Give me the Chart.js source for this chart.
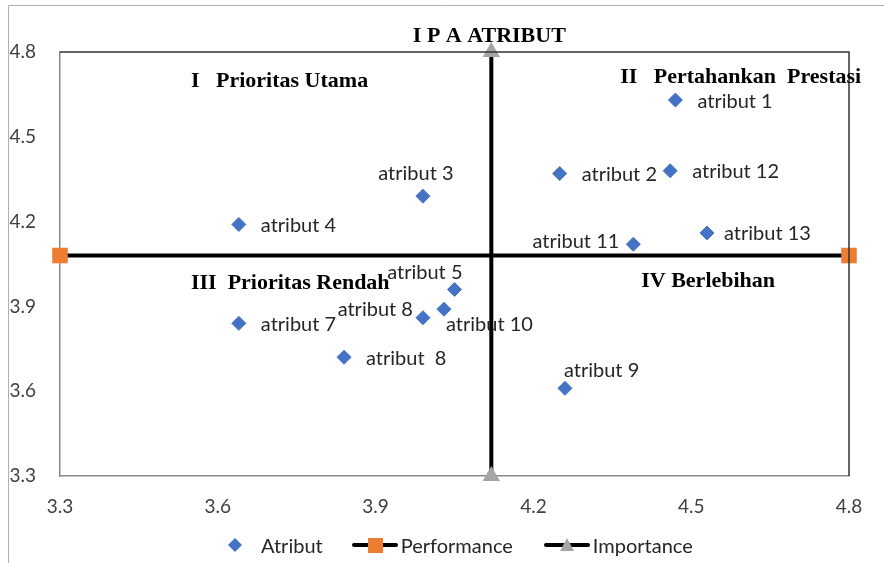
<!DOCTYPE html>
<html>
<head>
<meta charset="utf-8">
<script src="https://cdn.jsdelivr.net/npm/chart.js@4.4.0/dist/chart.umd.min.js"></script>
<style>
  html, body { margin: 0; padding: 0; background: #fff; }
  #wrap { position: relative; width: 884px; height: 563px; }
  #chart_legend {
    position: absolute;
    left: 228px;
    top: 533px;
    display: flex;
    align-items: center;
    font: 20px/24px Lato, sans-serif;
    color: #262626;
  }
  #chart_legend .item { display: flex; align-items: center; }
  #chart_legend canvas { display: block; }
</style>
</head>
<body>
<div id="wrap">
  <canvas id="ipaChart" width="884" height="563"></canvas>
  <div id="chart_legend"></div>
</div>
<script>
// data
const attributeNames = [
  "atribut 1", "atribut 2", "atribut 3", "atribut 4", "atribut 5", "atribut  8",
  "atribut 7", "atribut 8", "atribut 9", "atribut 10", "atribut 11", "atribut 12", "atribut 13"
];
const performanceScores = [4.47, 4.25, 3.99, 3.64, 4.05, 3.84, 3.64, 3.99, 4.26, 4.03, 4.39, 4.46, 4.53];
const importanceScores = [4.63, 4.37, 4.29, 4.19, 3.96, 3.72, 3.84, 3.86, 3.61, 3.89, 4.12, 4.38, 4.16];
const labelSides = [
  "right", "right", "above", "right", "aboveLeft", "right",
  "right", "upLeft", "aboveRight", "belowRight", "left", "right", "rightNear"
];

const performanceLineX = [3.3, 4.8];
const performanceLineY = [4.08, 4.08];
const importanceLineX = [4.12, 4.12];
const importanceLineY = [3.3, 4.8];

const axisTicks = [3.3, 3.6, 3.9, 4.2, 4.5, 4.8];
const chartTitle = "I P A ATRIBUT";
const quadrantTitles = ["I   Prioritas Utama", "II   Pertahankan  Prestasi", "III  Prioritas Rendah", "IV Berlebihan"];

const BLUE = "#4472C4";
const ORANGE = "#ED7D31";
const GRAY = "#A5A5A5";

// legend icons drawn on small canvases
const makeIcon = (marker) => {
  const c = document.createElement("canvas");
  const g = c.getContext("2d");
  if (marker === "diamond") {
    c.width = 14;
    c.height = 14;
    g.fillStyle = BLUE;
    g.beginPath();
    g.moveTo(7, 0);
    g.lineTo(14, 7);
    g.lineTo(7, 14);
    g.lineTo(0, 7);
    g.closePath();
    g.fill();
    return c;
  }
  c.width = 46;
  c.height = 18;
  g.strokeStyle = "#000";
  g.lineWidth = 4;
  g.lineCap = "round";
  g.beginPath();
  g.moveTo(2, 9);
  g.lineTo(44, 9);
  g.stroke();
  if (marker === "square") {
    g.fillStyle = ORANGE;
    g.fillRect(16, 2, 15, 15);
  } else {
    g.fillStyle = GRAY;
    g.beginPath();
    g.moveTo(23, 2);
    g.lineTo(30, 15);
    g.lineTo(16, 15);
    g.closePath();
    g.fill();
  }
  return c;
};

const labelOffsets = {
  right: { dx: 22, dy: 1, align: "left" },
  rightNear: { dx: 17, dy: 1, align: "left" },
  left: { dx: -14, dy: -3, align: "right" },
  upLeft: { dx: -10, dy: -8, align: "right" },
  above: { dx: -7, dy: -23, align: "center" },
  aboveLeft: { dx: 8, dy: -17, align: "right" },
  aboveRight: { dx: -1, dy: -18, align: "left" },
  belowRight: { dx: 2, dy: 15, align: "left" },
};

const pointLabels = {
  id: "pointLabels",
  beforeDatasetsDraw(chart) {
    const ctx = chart.ctx;
    const meta = chart.getDatasetMeta(0);
    ctx.save();
    ctx.font = "20px Lato";
    ctx.fillStyle = "#262626";
    ctx.textBaseline = "middle";
    meta.data.forEach((pt, i) => {
      const o = labelOffsets[labelSides[i]];
      ctx.textAlign = o.align;
      ctx.fillText(attributeNames[i], pt.x + o.dx, pt.y + o.dy);
    });
    ctx.restore();
  },
};

const decorations = {
  id: "decorations",
  beforeDraw(chart) {
    const ctx = chart.ctx;
    ctx.save();
    ctx.strokeStyle = "#b0b0b0";
    ctx.lineWidth = 1;
    ctx.beginPath();
    ctx.moveTo(8.5, chart.height);
    ctx.lineTo(8.5, 5.5);
    ctx.lineTo(chart.width, 5.5);
    ctx.stroke();
    ctx.restore();
  },
  afterDraw(chart) {
    const ctx = chart.ctx;
    const { left, right, top, bottom } = chart.chartArea;
    const xs = chart.scales.x;
    const ys = chart.scales.y;
    ctx.save();
    // frame: top and right darker
    ctx.strokeStyle = "#333";
    ctx.lineWidth = 1.5;
    ctx.beginPath();
    ctx.moveTo(left, top);
    ctx.lineTo(right, top);
    ctx.lineTo(right, bottom);
    ctx.stroke();

    ctx.fillStyle = "#000";
    ctx.textBaseline = "middle";
    ctx.textAlign = "center";
    ctx.font = "bold 22px 'Liberation Serif'";
    ctx.fillText(chartTitle, xs.getPixelForValue(importanceLineX[0]) - 2, top - 16);

    ctx.textAlign = "left";
    const spots = [[3.549, 4.697], [4.365, 4.712], [3.549, 3.983], [4.405, 3.99]];
    quadrantTitles.forEach((t, i) => {
      ctx.fillText(t, xs.getPixelForValue(spots[i][0]), ys.getPixelForValue(spots[i][1]));
    });
    ctx.restore();
  },
};

const ctx = document.getElementById("ipaChart").getContext("2d");
const chart = new Chart(ctx, {
  type: "scatter",
  data: {
    datasets: [
      {
        label: "Atribut",
        data: performanceScores.map((x, i) => ({ x: x, y: importanceScores[i] })),
        pointStyle: "rectRot",
        pointRadius: 7,
        pointHoverRadius: 7,
        backgroundColor: BLUE,
        borderColor: BLUE,
        borderWidth: 1,
      },
      {
        label: "Performance",
        type: "line",
        data: performanceLineX.map((x, i) => ({ x: x, y: performanceLineY[i] })),
        showLine: true,
        borderColor: "#000",
        borderWidth: 4,
        pointStyle: "rect",
        pointRadius: 11,
        pointHoverRadius: 11,
        pointBackgroundColor: ORANGE,
        pointBorderColor: ORANGE,
        pointBorderWidth: 0,
        clip: false,
      },
      {
        label: "Importance",
        type: "line",
        data: importanceLineX.map((x, i) => ({ x: x, y: importanceLineY[i] })),
        showLine: true,
        borderColor: "#000",
        borderWidth: 4,
        pointStyle: "triangle",
        pointRadius: 10,
        pointHoverRadius: 10,
        pointBackgroundColor: GRAY,
        pointBorderColor: GRAY,
        pointBorderWidth: 0,
        clip: false,
      },
    ],
  },
  options: {
    responsive: false,
    animation: false,
    layout: {
      padding: { top: 52, right: 35, left: 0, bottom: 41 },
    },
    plugins: {
      tooltip: { enabled: false },
      legend: { display: false },
    },
    scales: {
      x: {
        type: "linear",
        min: 3.3,
        max: 4.8,
        afterBuildTicks: (scale) => {
          scale.ticks = axisTicks.map((v) => ({ value: v }));
        },
        afterFit: (scale) => {
          scale.height = 46;
        },
        grid: { display: false, drawTicks: false },
        border: { color: "#8a8a8a", width: 1.5 },
        ticks: {
          padding: 19,
          color: "#404040",
          font: { family: "Lato", size: 19 },
          callback: (v) => Number(v).toFixed(1),
        },
      },
      y: {
        type: "linear",
        min: 3.3,
        max: 4.8,
        afterBuildTicks: (scale) => {
          scale.ticks = axisTicks.map((v) => ({ value: v }));
        },
        afterFit: (scale) => {
          scale.width = 60;
        },
        grid: { display: false, drawTicks: false },
        border: { color: "#8a8a8a", width: 1.5 },
        ticks: {
          padding: 24,
          color: "#404040",
          font: { family: "Lato", size: 19 },
          callback: (v) => Number(v).toFixed(1),
        },
      },
    },
  },
  plugins: [pointLabels, decorations],
});

// HTML legend under the chart
function createLegend() {
  const legendContainer = document.getElementById("chart_legend");
  legendContainer.innerHTML = "";
  const icons = ["diamond", "square", "triangle"];
  const iconGap = [19, 3, 3];
  const itemGap = [0, 29, 31];
  chart.data.datasets.forEach((dataset, index) => {
    const item = document.createElement("div");
    item.className = "item";
    item.style.marginLeft = itemGap[index] + "px";
    const icon = makeIcon(icons[index]);
    icon.style.marginRight = iconGap[index] + "px";
    const text = document.createElement("span");
    text.textContent = dataset.label;
    item.appendChild(icon);
    item.appendChild(text);
    legendContainer.appendChild(item);
  });
}
createLegend();
</script>
</body>
</html>
